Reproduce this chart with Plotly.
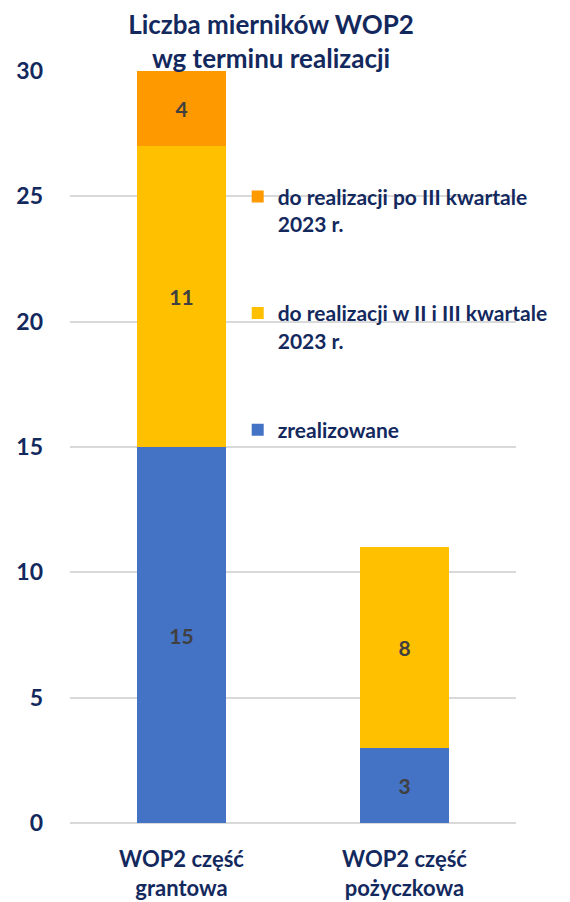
import plotly.graph_objects as go

categories = ["WOP2 część<br>grantowa", "WOP2 część<br>pożyczkowa"]
series_names = [
    "zrealizowane",
    "do realizacji w II i III kwartale<br>2023 r.",
    "do realizacji po III kwartale<br>2023 r.",
]
# segment heights as drawn in the picture
zrealizowane = [15, 3]
w_II_III = [12, 8]
po_III = [3, 0]
# data labels as printed on the picture
zrealizowane_labels = ["15", "3"]
w_II_III_labels = ["11", "8"]
po_III_labels = ["4", ""]
colors = ["#4472C4", "#FFC000", "#FF9900"]
y_ticks = [0, 5, 10, 15, 20, 25, 30]

NAVY = "#13295E"
FONT = "Lato"

series_values = [zrealizowane, w_II_III, po_III]
series_labels = [zrealizowane_labels, w_II_III_labels, po_III_labels]

fig = go.Figure()
for i, name in enumerate(series_names):
    fig.add_trace(go.Bar(
        x=categories, y=series_values[i], name=name,
        marker=dict(color=colors[i], line=dict(width=0)),
        text=series_labels[i],
        textposition="inside", insidetextanchor="middle",
        textfont=dict(family=FONT, size=21, color="#404040", weight="bold"),
        width=0.4, legendgroup=f"g{i}", legendrank=3 - i,
        cliponaxis=False,
    ))

# page body has an 8px margin, so the figure is sized/offset to compensate
fig.update_layout(
    barmode="stack",
    width=562, height=894,
    margin=dict(l=62, r=54, t=63, b=79, autoexpand=False),
    paper_bgcolor="white", plot_bgcolor="white",
    font=dict(family=FONT, color=NAVY),
    title=dict(
        text="Liczba mierników WOP2<br>wg terminu realizacji",
        x=0.468, xanchor="center", y=0.971, yanchor="top",
        font=dict(family=FONT, size=26, color=NAVY, weight="bold"),
    ),
    legend=dict(
        x=0.376, xanchor="left", y=0.86, yanchor="top",
        traceorder="grouped", tracegroupgap=59,
        valign="top",
        font=dict(family=FONT, size=21, color=NAVY, weight="bold"),
        bgcolor="rgba(0,0,0,0)",
        itemwidth=30,
    ),
    showlegend=True,
)
fig.update_xaxes(
    showgrid=False, showline=False, ticks="",
    ticklabelstandoff=21,
    tickfont=dict(family=FONT, size=22, color=NAVY, weight="bold"),
)
fig.update_yaxes(
    range=[0, 30], tickvals=y_ticks,
    showgrid=True, gridcolor="#D9D9D9", gridwidth=2,
    zeroline=True, zerolinecolor="#D9D9D9", zerolinewidth=2,
    showline=False, ticks="",
    ticklabelstandoff=26,
    tickfont=dict(family=FONT, size=23, color=NAVY, weight="bold"),
)
fig.write_html("out.html")
